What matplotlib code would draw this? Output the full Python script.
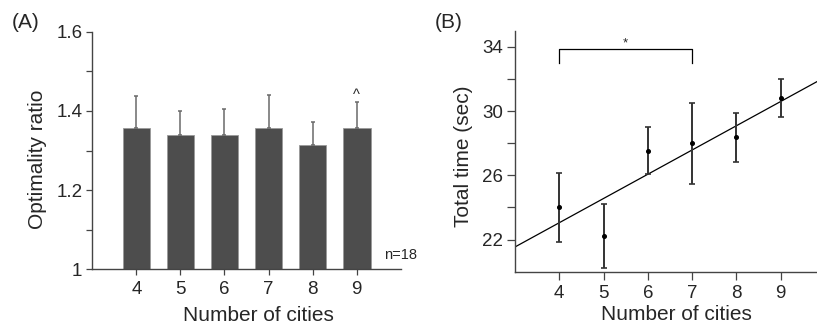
import numpy as np
import matplotlib
matplotlib.use("Agg")
from matplotlib import pyplot as plt

plt.rcParams['font.family'] = ['Liberation Sans', 'DejaVu Sans']

# panel A: optimality ratio (mean + upper error)
cities = [4, 5, 6, 7, 8, 9]
ratio_mean = [1.357, 1.338, 1.339, 1.356, 1.313, 1.357]
ratio_err = [0.080, 0.061, 0.066, 0.084, 0.059, 0.066]

# panel B: total time (mean +/- error)
time_mean = [24.0, 22.23, 27.54, 28.0, 28.37, 30.79]
time_err = [2.15, 2.0, 1.46, 2.52, 1.52, 1.18]

txt = '#262626'
spine_c = '#444444'

fig = plt.figure(figsize=(8.17, 3.24), dpi=100)

# ---- (A)
ax = fig.add_axes([0.113, 0.1688, 0.3775, 0.7333])
ax.bar(cities, [m - 1 for m in ratio_mean], bottom=1, width=0.63,
       color='#4d4d4d', edgecolor='#9a9a9a', linewidth=0.6, zorder=2)
ax.errorbar(cities, ratio_mean, yerr=[[0] * 6, ratio_err], fmt='none',
            ecolor='#6a6a6a', elinewidth=1.1, capsize=1.6, capthick=1.1, zorder=3)
ax.set_xlim(3, 10)
ax.set_ylim(1, 1.6)
ax.set_xticks(cities)
yt = [1, 1.1, 1.2, 1.3, 1.4, 1.5, 1.6]
ax.set_yticks(yt)
ax.set_yticklabels(['1', '', '1.2', '', '1.4', '', '1.6'])
ax.text(9, 1.43, '^', ha='center', va='baseline', fontsize=10.5, color=txt)
ax.text(10.0, 1.027, 'n=18', ha='center', va='baseline', fontsize=10.5, color=txt)

# ---- (B)
bx = fig.add_axes([0.6303, 0.1614, 0.3795, 0.7438])
k, b = np.polyfit(cities, time_mean, 1)
xl = np.array([3, 10])
bx.plot(xl, k * xl + b, color='black', lw=0.9, zorder=2)
bx.errorbar(cities, time_mean, yerr=time_err, fmt='o', color='black',
            ms=2.6, ecolor='#333333', elinewidth=1.4, capsize=2.2,
            capthick=1.2, zorder=3)
bx.plot([4, 4, 7, 7], [32.97, 33.86, 33.86, 32.97], color='black', lw=0.9)
bx.text(5.5, 34.05, '*', ha='center', va='baseline', fontsize=9.5, color=txt)
bx.set_xlim(3, 10)
bx.set_ylim(20, 35)
bx.set_xticks(cities)
bx.set_yticks([22, 24, 26, 28, 30, 32, 34])
bx.set_yticklabels(['22', '', '26', '', '30', '', '34'])

for a, tl in ((ax, 4.2), (bx, 5.5)):
    for s in ('top', 'right'):
        a.spines[s].set_visible(False)
    for s in ('left', 'bottom'):
        a.spines[s].set_color(spine_c)
        a.spines[s].set_linewidth(1.0)
    a.tick_params(length=tl, width=0.9, color=spine_c, labelsize=13.5,
                  labelcolor=txt)
    a.tick_params(axis='x', pad=4)
    a.tick_params(axis='y', pad=3)

# labels
fig.text(37.3 / 817, 1 - 159 / 324, 'Optimality ratio', rotation=90,
         ha='center', va='center', fontsize=15, color=txt)
fig.text(258.3 / 817, 1 - 321 / 324, 'Number of cities', ha='center',
         va='baseline', fontsize=15, color=txt)
fig.text(463.3 / 817, 1 - 156.3 / 324, 'Total time (sec)', rotation=90,
         ha='center', va='center', fontsize=15, color=txt)
fig.text(676.7 / 817, 1 - 320.5 / 324, 'Number of cities', ha='center',
         va='baseline', fontsize=15, color=txt)
fig.text(11.7 / 817, 1 - 28 / 324, '(A)', ha='left', va='baseline',
         fontsize=15, color=txt)
fig.text(435 / 817, 1 - 28 / 324, '(B)', ha='left', va='baseline',
         fontsize=15, color=txt)

fig.savefig('out.png', dpi=100)
